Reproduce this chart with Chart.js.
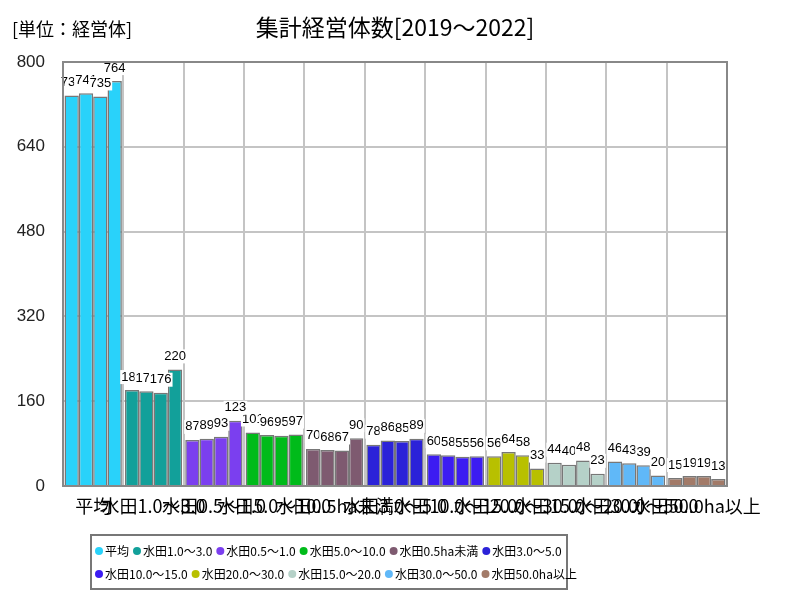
<!DOCTYPE html>
<html>
<head>
<meta charset="utf-8">
<script src="https://cdn.jsdelivr.net/npm/chart.js@4.4.0/dist/chart.umd.min.js"></script>
<style>
  html, body { margin: 0; padding: 0; background: #fff; }
  #wrap { width: 800px; height: 600px; }
</style>
</head>
<body>
<div id="wrap"><canvas id="chart" width="800" height="600"></canvas></div>
<script>
const categories = ["平均", "水田1.0～3.0", "水田0.5～1.0", "水田5.0～10.0", "水田0.5ha未満", "水田3.0～5.0",
  "水田10.0～15.0", "水田20.0～30.0", "水田15.0～20.0", "水田30.0～50.0", "水田50.0ha以上"];
const years = ["2019", "2020", "2021", "2022"];
const v2019 = [737, 181, 87, 101, 70, 78, 60, 56, 44, 46, 15];
const v2020 = [741, 179, 89, 96, 68, 86, 58, 64, 40, 43, 19];
const v2021 = [735, 176, 93, 95, 67, 85, 55, 58, 48, 39, 19];
const v2022 = [764, 220, 123, 97, 90, 89, 56, 33, 23, 20, 13];
const yTicks = [0, 160, 320, 480, 640, 800];

const groupColors = ["#29d2fa", "#12a09a", "#7b3fef", "#00bb1a", "#7e5a70", "#2b22d8",
  "#3c1cf2", "#b8c000", "#b5d1c8", "#60b8f8", "#a27a68"];

const jp = "'Noto Sans CJK JP', 'Liberation Sans', sans-serif";

// title, unit, frame, value labels and the boxed legend
const decorations = {
  id: "decorations",
  afterDatasetsDraw(chart) {
    const ctx = chart.ctx;
    ctx.save();
    // value labels above bars
    ctx.font = "13px 'Liberation Sans', sans-serif";
    ctx.textAlign = "center";
    ctx.textBaseline = "middle";
    chart.data.datasets.forEach((ds, i) => {
      const meta = chart.getDatasetMeta(i);
      meta.data.forEach((bar, j) => {
        const txt = String(ds.data[j]);
        const w = ctx.measureText(txt).width;
        const y = bar.y - 13;
        ctx.fillStyle = "#fff";
        ctx.fillRect(bar.x - w / 2 - 1, y - 7, w + 2, 14);
        ctx.fillStyle = "#000";
        ctx.fillText(txt, bar.x, y);
      });
    });
    ctx.restore();
  },
  afterDraw(chart) {
    const ctx = chart.ctx;
    const area = chart.chartArea;
    ctx.save();
    // frame
    ctx.strokeStyle = "#888";
    ctx.lineWidth = 2;
    ctx.strokeRect(area.left, area.top, area.right - area.left, area.bottom - area.top);

    // titles
    ctx.fillStyle = "#000";
    ctx.textBaseline = "middle";
    ctx.textAlign = "center";
    ctx.font = "23px " + jp;
    ctx.fillText("集計経営体数[2019～2022]", 395, 27);
    ctx.textAlign = "left";
    ctx.font = "18px " + jp;
    ctx.fillText("[単位：経営体]", 12, 29);

    // legend
    const bx = 91, by = 535, bw = 476, bh = 54;
    ctx.strokeStyle = "#777";
    ctx.lineWidth = 2;
    ctx.strokeRect(bx, by, bw, bh);
    ctx.font = "12px " + jp;
    const rows = [categories.slice(0, 6), categories.slice(6)];
    rows.forEach((row, r) => {
      let x = bx + 8;
      const y = by + 16 + r * 23;
      row.forEach(name => {
        const idx = categories.indexOf(name);
        ctx.fillStyle = groupColors[idx];
        ctx.beginPath();
        ctx.arc(x, y, 4, 0, Math.PI * 2);
        ctx.fill();
        ctx.fillStyle = "#000";
        ctx.fillText(name, x + 6, y);
        x += ctx.measureText(name).width + 14;
      });
    });
    ctx.restore();
  }
};

const yearData = [v2019, v2020, v2021, v2022];

new Chart(document.getElementById("chart"), {
  type: "bar",
  data: {
    labels: categories,
    datasets: years.map((yr, i) => ({
      label: yr,
      data: yearData[i],
      backgroundColor: groupColors,
      borderColor: "#777",
      borderWidth: 1.5,
      barPercentage: 1.0,
      categoryPercentage: 0.95
    }))
  },
  options: {
    responsive: false,
    animation: false,
    layout: { padding: { top: 62, right: 73, bottom: 84, left: 0 } },
    plugins: {
      legend: { display: false },
      title: { display: false },
      tooltip: { enabled: false }
    },
    scales: {
      x: {
        grid: { color: "#c4c4c4", lineWidth: 2, drawTicks: false, offset: true },
        border: { color: "#777", width: 2 },
        ticks: {
          autoSkip: false, maxRotation: 0, minRotation: 0,
          color: "#000", padding: 9,
          font: { family: jp, size: 18 }
        },
        afterFit(scale) { scale.height = 30; }
      },
      y: {
        min: 0, max: 800,
        afterBuildTicks(scale) { scale.ticks = yTicks.map(v => ({ value: v })); },
        grid: { color: "#c4c4c4", lineWidth: 2, drawTicks: false },
        border: { color: "#777", width: 2 },
        ticks: {
          color: "#222", padding: 18,
          font: { family: "'Liberation Sans', sans-serif", size: 17 }
        },
        afterFit(scale) { scale.width = 63; }
      }
    }
  },
  plugins: [decorations]
});
</script>
</body>
</html>
